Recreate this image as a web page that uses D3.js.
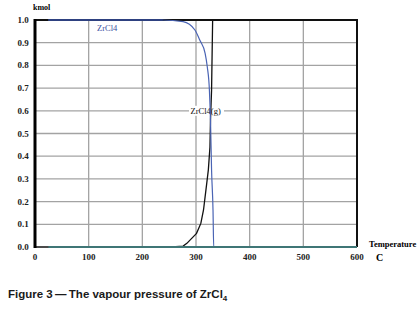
<!DOCTYPE html>
<html>
<head>
<meta charset="utf-8">
<script src="https://cdn.jsdelivr.net/npm/d3@7"></script>
<style>
  body { margin: 0; background: #fff; }
  svg { display: block; }
</style>
</head>
<body>
<div id="chart"></div>
<script>
// Values (temperature in C, amount in kmol)
var xTicks = [0, 100, 200, 300, 400, 500, 600];
var yTicks = [0, 0.1, 0.2, 0.3, 0.4, 0.5, 0.6, 0.7, 0.8, 0.9, 1.0];

// ZrCl4 (condensed) - blue
var solidTemp = [25, 238, 276, 298, 307, 317, 321, 325, 327, 329, 331.7, 333, 600];
var solidAmount = [1, 1, 0.993, 0.956, 0.912, 0.853, 0.794, 0.69, 0.56, 0.34, 0.163, 0, 0];

// ZrCl4(g) - black
var gasTemp = [0, 255, 276, 283, 292, 301, 309, 314, 317, 320, 323, 326, 327, 329, 331, 600];
var gasAmount = [0, 0, 0.004, 0.016, 0.038, 0.06, 0.104, 0.163, 0.222, 0.28, 0.34, 0.44, 0.56, 0.69, 1.0, 1.0];

// other species staying at zero - teal
var otherTemp = [25, 600];
var otherAmount = [0, 0];

var width = 418, height = 309;

var svg = d3.select("#chart")
  .append("svg")
  .attr("width", width)
  .attr("height", height);

var x = d3.scaleLinear().domain([0, 600]).range([35, 357]);
var y = d3.scaleLinear().domain([0, 1]).range([247, 20]);

// grid lines
svg.append("g")
  .selectAll("line")
  .data(xTicks.slice(1, -1))
  .enter()
  .append("line")
  .attr("x1", function (d) { return x(d); })
  .attr("x2", function (d) { return x(d); })
  .attr("y1", y(0))
  .attr("y2", y(1))
  .attr("stroke", "#a3a3a3")
  .attr("stroke-width", 1.3);

svg.append("g")
  .selectAll("line")
  .data(yTicks.slice(1, -1))
  .enter()
  .append("line")
  .attr("x1", x(0))
  .attr("x2", x(600))
  .attr("y1", function (d) { return y(d); })
  .attr("y2", function (d) { return y(d); })
  .attr("stroke", "#a3a3a3")
  .attr("stroke-width", 1.3);

// frame
svg.append("line")
  .attr("x1", x(0)).attr("x2", x(600))
  .attr("y1", y(1)).attr("y2", y(1))
  .attr("stroke", "#111").attr("stroke-width", 2);
svg.append("line")
  .attr("x1", x(600)).attr("x2", x(600))
  .attr("y1", y(1) - 1).attr("y2", y(0))
  .attr("stroke", "#111").attr("stroke-width", 2);

// label for the gas curve sits on the 0.6 grid line
svg.append("rect")
  .attr("x", 189)
  .attr("y", y(0.6) - 5)
  .attr("width", 35)
  .attr("height", 10)
  .attr("fill", "#fff");
svg.append("text")
  .attr("x", 190.5)
  .attr("y", y(0.6) + 3)
  .style("font-family", "'Liberation Serif', serif")
  .style("font-size", "8.5px")
  .attr("fill", "#111")
  .text("ZrCl4(g)");

var line = d3.line()
  .x(function (d) { return x(d[0]); })
  .y(function (d) { return y(d[1]); });

svg.append("path")
  .datum(d3.zip(gasTemp, gasAmount))
  .attr("d", line)
  .attr("fill", "none")
  .attr("stroke", "#111")
  .attr("stroke-width", 1.3);

svg.append("path")
  .datum(d3.zip(solidTemp, solidAmount))
  .attr("d", d3.line().curve(d3.curveMonotoneX)
    .x(function (d) { return x(d[0]); })
    .y(function (d) { return y(d[1]); }))
  .attr("fill", "none")
  .attr("stroke", "#4a64b4")
  .attr("stroke-width", 1.2);

// thicker dark blue along the top
svg.append("line")
  .attr("x1", x(25)).attr("x2", x(238))
  .attr("y1", y(1)).attr("y2", y(1))
  .attr("stroke", "#2e4180").attr("stroke-width", 2);

svg.append("path")
  .datum(d3.zip(otherTemp, otherAmount))
  .attr("d", line)
  .attr("fill", "none")
  .attr("stroke", "#3f7676")
  .attr("stroke-width", 2);

// left axis
svg.append("line")
  .attr("x1", x(0)).attr("x2", x(0))
  .attr("y1", y(1) - 1).attr("y2", y(0) + 1)
  .attr("stroke", "#000").attr("stroke-width", 3);

// tick labels
svg.append("g")
  .selectAll("text")
  .data(xTicks)
  .enter()
  .append("text")
  .attr("x", function (d) { return x(d); })
  .attr("y", 260)
  .attr("text-anchor", "middle")
  .style("font-family", "'Liberation Serif', serif")
  .style("font-weight", "bold")
  .style("font-size", "9px")
  .attr("fill", "#222")
  .text(function (d) { return d; });

svg.append("g")
  .selectAll("text")
  .data(yTicks)
  .enter()
  .append("text")
  .attr("x", 23)
  .attr("y", function (d) { return y(d) + 3; })
  .attr("text-anchor", "middle")
  .style("font-family", "'Liberation Serif', serif")
  .style("font-weight", "bold")
  .style("font-size", "9px")
  .attr("fill", "#222")
  .text(function (d) { return d.toFixed(1); });

// axis titles
svg.append("text")
  .attr("x", 33)
  .attr("y", 10)
  .style("font-family", "'Liberation Serif', serif")
  .style("font-weight", "bold")
  .style("font-size", "8px")
  .text("kmol");

svg.append("text")
  .attr("x", 369)
  .attr("y", 247)
  .style("font-family", "'Liberation Serif', serif")
  .style("font-weight", "bold")
  .style("font-size", "8.5px")
  .text("Temperature");

svg.append("text")
  .attr("x", 376)
  .attr("y", 261)
  .style("font-family", "'Liberation Serif', serif")
  .style("font-weight", "bold")
  .style("font-size", "10px")
  .text("C");

// series label
svg.append("text")
  .attr("x", 97)
  .attr("y", 31)
  .style("font-family", "'Liberation Serif', serif")
  .style("font-size", "8.5px")
  .attr("fill", "#3b4fa0")
  .text("ZrCl4");

// caption
var caption = svg.append("text")
  .attr("x", 8)
  .attr("y", 298)
  .style("font-family", "'Liberation Sans', Arial, sans-serif")
  .style("font-weight", "bold")
  .style("font-size", "11.5px")
  .attr("fill", "#1a1a1a");
caption.append("tspan").text("Figure 3\u2009\u2014\u2009The vapour pressure of ZrCl");
caption.append("tspan")
  .attr("dy", 2.5)
  .style("font-size", "8px")
  .text("4");
</script>
</body>
</html>
